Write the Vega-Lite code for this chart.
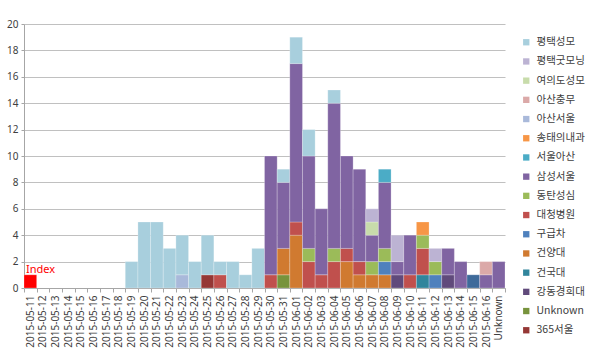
{
  "$schema": "https://vega.github.io/schema/vega-lite/v6.json",
  "autosize": {"type": "none"},
  "width": 481,
  "height": 264,
  "padding": {"left": 24, "top": 24, "right": 85, "bottom": 64},
  "background": "white",
  "config": {
    "view": {"stroke": null},
    "font": "Noto Sans",
    "axis": {"labelColor": "#404040", "labelFontSize": 10, "domainColor": "#a6a6a6", "tickColor": "#a6a6a6", "gridColor": "#c0c0c0", "title": null}
  },
  "datasets": {
    "cases": [
      {"date": "2015-05-11", "hospital": "Index", "count": 1},
      {"date": "2015-05-19", "hospital": "평택성모", "count": 2},
      {"date": "2015-05-20", "hospital": "평택성모", "count": 5},
      {"date": "2015-05-21", "hospital": "평택성모", "count": 5},
      {"date": "2015-05-22", "hospital": "평택성모", "count": 3},
      {"date": "2015-05-23", "hospital": "아산서울", "count": 1},
      {"date": "2015-05-23", "hospital": "평택성모", "count": 3},
      {"date": "2015-05-24", "hospital": "평택성모", "count": 2},
      {"date": "2015-05-25", "hospital": "365서울", "count": 1},
      {"date": "2015-05-25", "hospital": "평택성모", "count": 3},
      {"date": "2015-05-26", "hospital": "대청병원", "count": 1},
      {"date": "2015-05-26", "hospital": "평택성모", "count": 1},
      {"date": "2015-05-27", "hospital": "평택성모", "count": 2},
      {"date": "2015-05-28", "hospital": "평택성모", "count": 1},
      {"date": "2015-05-29", "hospital": "평택성모", "count": 3},
      {"date": "2015-05-30", "hospital": "대청병원", "count": 1},
      {"date": "2015-05-30", "hospital": "삼성서울", "count": 9},
      {"date": "2015-05-31", "hospital": "Unknown", "count": 1},
      {"date": "2015-05-31", "hospital": "건양대", "count": 2},
      {"date": "2015-05-31", "hospital": "삼성서울", "count": 5},
      {"date": "2015-05-31", "hospital": "평택성모", "count": 1},
      {"date": "2015-06-01", "hospital": "건양대", "count": 4},
      {"date": "2015-06-01", "hospital": "대청병원", "count": 1},
      {"date": "2015-06-01", "hospital": "삼성서울", "count": 12},
      {"date": "2015-06-01", "hospital": "평택성모", "count": 2},
      {"date": "2015-06-02", "hospital": "대청병원", "count": 2},
      {"date": "2015-06-02", "hospital": "동탄성심", "count": 1},
      {"date": "2015-06-02", "hospital": "삼성서울", "count": 7},
      {"date": "2015-06-02", "hospital": "평택성모", "count": 2},
      {"date": "2015-06-03", "hospital": "대청병원", "count": 1},
      {"date": "2015-06-03", "hospital": "삼성서울", "count": 5},
      {"date": "2015-06-04", "hospital": "대청병원", "count": 2},
      {"date": "2015-06-04", "hospital": "동탄성심", "count": 1},
      {"date": "2015-06-04", "hospital": "삼성서울", "count": 11},
      {"date": "2015-06-04", "hospital": "평택성모", "count": 1},
      {"date": "2015-06-05", "hospital": "건양대", "count": 2},
      {"date": "2015-06-05", "hospital": "대청병원", "count": 1},
      {"date": "2015-06-05", "hospital": "삼성서울", "count": 7},
      {"date": "2015-06-06", "hospital": "건양대", "count": 1},
      {"date": "2015-06-06", "hospital": "대청병원", "count": 1},
      {"date": "2015-06-06", "hospital": "삼성서울", "count": 7},
      {"date": "2015-06-07", "hospital": "건양대", "count": 1},
      {"date": "2015-06-07", "hospital": "동탄성심", "count": 1},
      {"date": "2015-06-07", "hospital": "삼성서울", "count": 2},
      {"date": "2015-06-07", "hospital": "여의도성모", "count": 1},
      {"date": "2015-06-07", "hospital": "평택굿모닝", "count": 1},
      {"date": "2015-06-08", "hospital": "건양대", "count": 1},
      {"date": "2015-06-08", "hospital": "구급차", "count": 1},
      {"date": "2015-06-08", "hospital": "동탄성심", "count": 1},
      {"date": "2015-06-08", "hospital": "삼성서울", "count": 5},
      {"date": "2015-06-08", "hospital": "서울아산", "count": 1},
      {"date": "2015-06-09", "hospital": "강동경희대", "count": 1},
      {"date": "2015-06-09", "hospital": "삼성서울", "count": 1},
      {"date": "2015-06-09", "hospital": "평택굿모닝", "count": 2},
      {"date": "2015-06-10", "hospital": "대청병원", "count": 1},
      {"date": "2015-06-10", "hospital": "삼성서울", "count": 3},
      {"date": "2015-06-11", "hospital": "건국대", "count": 1},
      {"date": "2015-06-11", "hospital": "대청병원", "count": 2},
      {"date": "2015-06-11", "hospital": "동탄성심", "count": 1},
      {"date": "2015-06-11", "hospital": "송태의내과", "count": 1},
      {"date": "2015-06-12", "hospital": "구급차", "count": 1},
      {"date": "2015-06-12", "hospital": "동탄성심", "count": 1},
      {"date": "2015-06-12", "hospital": "평택굿모닝", "count": 1},
      {"date": "2015-06-13", "hospital": "강동경희대", "count": 1},
      {"date": "2015-06-13", "hospital": "삼성서울", "count": 2},
      {"date": "2015-06-14", "hospital": "삼성서울", "count": 2},
      {"date": "2015-06-15", "hospital": "기타", "count": 1},
      {"date": "2015-06-16", "hospital": "삼성서울", "count": 1},
      {"date": "2015-06-16", "hospital": "아산충무", "count": 1},
      {"date": "Unknown", "hospital": "삼성서울", "count": 2}
    ]
  },
  "data": {"name": "cases"},
  "encoding": {
    "x": {
      "field": "date",
      "type": "nominal",
      "scale": {
        "domain": ["2015-05-11","2015-05-12","2015-05-13","2015-05-14","2015-05-15","2015-05-16","2015-05-17","2015-05-18","2015-05-19","2015-05-20","2015-05-21","2015-05-22","2015-05-23","2015-05-24","2015-05-25","2015-05-26","2015-05-27","2015-05-28","2015-05-29","2015-05-30","2015-05-31","2015-06-01","2015-06-02","2015-06-03","2015-06-04","2015-06-05","2015-06-06","2015-06-07","2015-06-08","2015-06-09","2015-06-10","2015-06-11","2015-06-12","2015-06-13","2015-06-14","2015-06-15","2015-06-16","Unknown"],
        "paddingInner": 0,
        "paddingOuter": 0
      },
      "axis": {"labelAngle": -90, "labelFontSize": 10, "tickBand": "extent", "tickSize": 4, "labelPadding": 3, "grid": false}
    },
    "y": {
      "field": "count",
      "type": "quantitative",
      "stack": "zero",
      "scale": {"domain": [0, 20], "nice": false},
      "axis": {"values": [0,2,4,6,8,10,12,14,16,18,20], "tickCount": 30, "format": "d", "labelOverlap": false, "tickSize": 3, "labelPadding": 3, "domain": true, "grid": true, "gridWidth": 1.2}
    },
    "order": {"field": "hospital", "sort": "ascending"}
  },
  "layer": [
    {
      "mark": {"type": "bar", "stroke": "white", "strokeWidth": 0.4, "strokeOpacity": 0.6},
      "encoding": {
        "color": {
          "field": "hospital",
          "type": "nominal",
          "scale": {
            "domain": ["Index","365서울","Unknown","강동경희대","건국대","건양대","구급차","기타","대청병원","동탄성심","삼성서울","서울아산","송태의내과","아산서울","아산충무","여의도성모","평택굿모닝","평택성모"],
            "range": ["#ff0000","#953735","#77933c","#604a7b","#31859c","#d07a30","#4f81bd","#3e6a9a","#c0504d","#9bbb59","#8064a2","#4bacc6","#f79646","#a9b9da","#dba9a8","#c8dcab","#bcb3d3","#a8cfdd"]
          },
          "legend": {
            "orient": "none",
            "legendX": 497,
            "legendY": 13,
            "title": null,
            "padding": 0,
            "values": ["평택성모","평택굿모닝","여의도성모","아산충무","아산서울","송태의내과","서울아산","삼성서울","동탄성심","대청병원","구급차","건양대","건국대","강동경희대","Unknown","365서울"],
            "symbolType": "square",
            "symbolSize": 40,
            "symbolStrokeWidth": 0,
            "labelFont": "Noto Sans CJK KR",
            "labelFontSize": 10.5,
            "labelColor": "#404040",
            "labelOffset": 5,
            "rowPadding": 8.2
          }
        }
      }
    },
    {
      "transform": [{"filter": "datum.hospital == 'Index'"}],
      "mark": {"type": "text", "align": "left", "baseline": "bottom", "color": "#ff0000", "fontSize": 11, "dx": 2, "font": "Noto Sans"},
      "encoding": {
        "x": {"field": "date", "type": "nominal", "bandPosition": 0},
        "text": {"field": "hospital"}
      }
    }
  ]
}
